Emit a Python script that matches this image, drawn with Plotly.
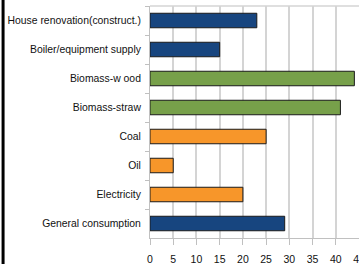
import plotly.graph_objects as go

categories = ["House renovation(construct.)", "Boiler/equipment supply", "Biomass-w ood",
              "Biomass-straw", "Coal", "Oil", "Electricity", "General consumption"]
values = [23, 15, 44, 41, 25, 5, 20, 29]
groups = ["blue", "blue", "green", "green", "orange", "orange", "orange", "blue"]
palette = {"blue": "#17457f", "green": "#77a04a", "orange": "#f7962a"}
x_ticks = [0, 5, 10, 15, 20, 25, 30, 35, 40, 45]

fig = go.Figure(go.Bar(
    y=categories, x=values, orientation="h",
    marker=dict(color=[palette[g] for g in groups], line=dict(color="#1a1a1a", width=1)),
    width=0.5,
))

fig.update_layout(
    template="none",
    width=359, height=264,
    margin=dict(l=150, r=0, t=6, b=26),
    paper_bgcolor="white", plot_bgcolor="white",
    font=dict(family="Liberation Sans", size=10, color="#111111"),
    showlegend=False,
    xaxis=dict(range=[0, 45], tickvals=x_ticks, showgrid=True, gridcolor="#d4d4d4", gridwidth=1.5,
               showline=True, linecolor="#c0c0c0", linewidth=1, ticks="outside", ticklen=6,
               tickcolor="#c0c0c0", zeroline=False, tickfont=dict(size=10.5), automargin=False,
               ticklabelstandoff=5, ticklabeloverflow="allow"),
    yaxis=dict(autorange="reversed", showline=True, linecolor="#c0c0c0", linewidth=1,
               ticks="outside", tickson="boundaries", ticklen=4, tickcolor="#c0c0c0",
               showgrid=False, zeroline=False, tickfont=dict(size=10.4), automargin=False,
               ticklabelstandoff=6),
    shapes=[dict(type="line", xref="paper", yref="paper", x0=-0.703, x1=-0.703, y0=-0.12, y1=1.03,
                 line=dict(color="black", width=3))],
)
# top border line of the plot area
fig.add_shape(type="line", xref="paper", yref="paper", x0=0, x1=1, y0=1, y1=1,
              line=dict(color="#d4d4d4", width=1.5))

fig.write_html("out.html", config={"displayModeBar": False},
               post_script="document.body.style.margin='0';document.body.style.overflow='hidden';")
